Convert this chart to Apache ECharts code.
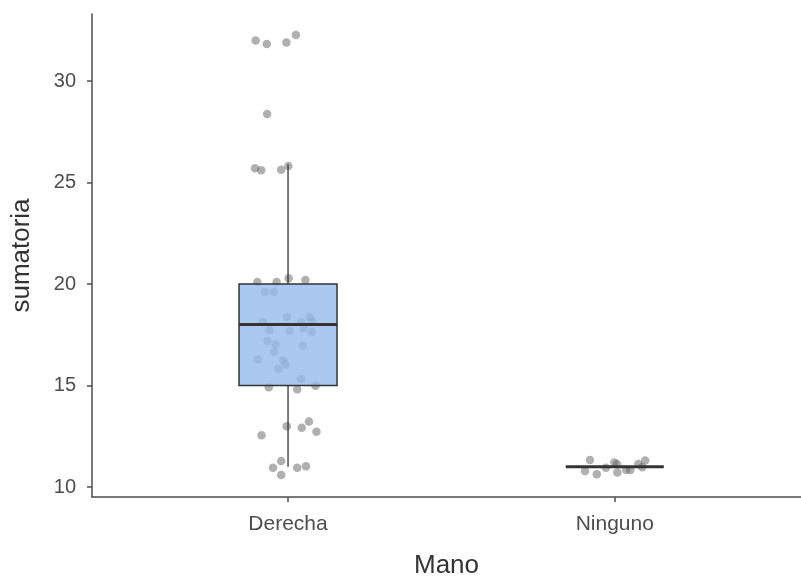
<!DOCTYPE html>
<html>
<head>
<meta charset="utf-8">
<script src="https://cdn.jsdelivr.net/npm/echarts@6/dist/echarts.min.js"></script>
<style>
html, body { margin: 0; padding: 0; background: #fff; }
#chart1 { width: 801px; height: 576px; }
</style>
</head>
<body>
<div id="chart1"></div>
<script>
function $(_) {return document.getElementById(_);}

// categories on the x axis (positions 1 and 2)
const categories = ['Derecha', 'Ninguno'];
const catPos = [1, 2];

// box stats: [lower whisker, Q1, median, Q3, upper whisker]
const boxDerecha = [11.0, 15, 18, 20, 25.9];
const boxNinguno = [11, 11, 11, 11, 11];

// jittered points
const derechaX = [0.901, 0.935, 0.995, 1.024, 0.936, 0.899, 0.918, 0.979, 1.001,
  0.906, 0.965, 1.002, 1.053, 0.929, 0.956, 0.997, 1.066, 0.923, 1.040, 1.074,
  0.943, 1.005, 1.048, 1.073, 0.937, 0.962, 1.045, 0.958, 0.908, 0.985, 0.992,
  0.970, 1.040, 0.941, 1.028, 1.084, 0.996, 1.042, 1.064, 1.087, 0.919, 0.979,
  0.954, 1.028, 1.055, 0.979];
const derechaY = [31.99, 31.82, 31.90, 32.27, 28.37, 25.70, 25.60, 25.63, 25.81,
  20.10, 20.10, 20.28, 20.20, 19.60, 19.60, 18.37, 18.37, 18.13, 18.13, 18.16,
  17.72, 17.68, 17.82, 17.64, 17.19, 17.04, 16.96, 16.68, 16.29, 16.24, 16.04,
  15.81, 15.32, 14.91, 14.82, 14.99, 12.99, 12.92, 13.23, 12.72, 12.55, 11.28,
  10.95, 10.95, 11.02, 10.59];
const ningunoX = [1.924, 1.909, 1.945, 1.973, 1.999, 2.007, 2.008, 2.035, 2.048, 2.072, 2.084, 2.093];
const ningunoY = [11.33, 10.79, 10.63, 10.95, 11.21, 11.12, 10.72, 10.84, 10.84, 11.13, 10.97, 11.30];

const yTicks = [10, 15, 20, 25, 30];

const boxData = [
  [catPos[0]].concat(boxDerecha),
  [catPos[1]].concat(boxNinguno)
];
const pointData = derechaX.map((x, i) => [x, derechaY[i]])
  .concat(ningunoX.map((x, i) => [x, ningunoY[i]]));

const FONT = "'Liberation Sans', Arial, sans-serif";
const HALF = 0.15;

function renderBox(params, api) {
  const x = api.value(0);
  const lo = api.value(1), q1 = api.value(2), med = api.value(3), q3 = api.value(4), hi = api.value(5);
  const c = api.coord([x, med]);
  const l = api.coord([x - HALF, med])[0];
  const r = api.coord([x + HALF, med])[0];
  const yLo = api.coord([x, lo])[1];
  const yQ1 = api.coord([x, q1])[1];
  const yQ3 = api.coord([x, q3])[1];
  const yHi = api.coord([x, hi])[1];
  const lineStyle = { stroke: '#333333', lineWidth: 1.3 };
  const children = [];
  if (hi > q3) children.push({ type: 'line', shape: { x1: c[0], y1: yQ3, x2: c[0], y2: yHi }, style: lineStyle });
  if (lo < q1) children.push({ type: 'line', shape: { x1: c[0], y1: yQ1, x2: c[0], y2: yLo }, style: lineStyle });
  if (q3 > q1) {
    children.push({ type: 'rect', shape: { x: l, y: yQ3, width: r - l, height: yQ1 - yQ3 },
      style: { fill: 'rgba(149,186,236,0.8)', stroke: '#333333', lineWidth: 1.5 } });
  }
  children.push({ type: 'line', shape: { x1: l, y1: c[1], x2: r, y2: c[1] },
    style: { stroke: '#333333', lineWidth: 3 } });
  return { type: 'group', children: children };
}

const echart1 = echarts.init($('chart1'));

const option = {
  backgroundColor: '#ffffff',
  animation: false,
  grid: { left: 92, right: 0, top: 14, bottom: 79, containLabel: false, outerBoundsMode: 'none' },
  xAxis: {
    type: 'value',
    min: 0.4,
    max: 2.57,
    name: 'Mano',
    nameLocation: 'middle',
    nameGap: 56,
    nameTextStyle: { fontFamily: FONT, fontSize: 26, color: '#333333' },
    axisLine: { show: true, onZero: false, lineStyle: { color: '#4d4d4d', width: 1.5 } },
    axisTick: { show: true, length: 5, customValues: catPos, lineStyle: { color: '#4d4d4d', width: 1.5 } },
    axisLabel: {
      customValues: catPos,
      margin: 17,
      fontFamily: FONT, fontSize: 21, color: '#4d4d4d',
      formatter: v => categories[catPos.indexOf(Math.round(v))] || ''
    },
    splitLine: { show: false }
  },
  yAxis: {
    type: 'value',
    min: 9.507,
    max: 33.3,
    name: 'sumatoria',
    nameLocation: 'middle',
    nameGap: 57,
    nameTextStyle: { fontFamily: FONT, fontSize: 26, color: '#333333' },
    axisLine: { show: true, onZero: false, lineStyle: { color: '#4d4d4d', width: 1.5 } },
    axisTick: { show: true, length: 5, customValues: yTicks, lineStyle: { color: '#4d4d4d', width: 1.5 } },
    axisLabel: { customValues: yTicks, margin: 16, fontFamily: FONT, fontSize: 20, color: '#4d4d4d' },
    splitLine: { show: false }
  },
  series: [
    {
      type: 'scatter',
      z: 2,
      symbolSize: 8.5,
      itemStyle: { color: 'rgba(90,90,90,0.6)' },
      data: pointData
    },
    {
      type: 'custom',
      z: 3,
      renderItem: renderBox,
      encode: { x: 0, y: [1, 2, 3, 4, 5] },
      data: boxData
    }
  ]
};

echart1.setOption(option);
</script>
</body>
</html>
